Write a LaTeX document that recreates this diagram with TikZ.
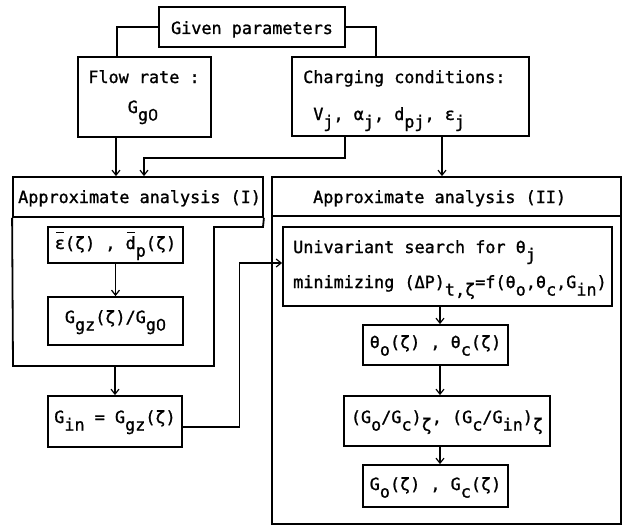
\documentclass[tikz,border=0pt]{standalone}
\usepackage{fontspec}
\setmonofont{DejaVu Sans Mono}[FakeBold=1.2]
\newfontfamily\zerofont{Liberation Sans}[FakeBold=1.2]
\usetikzlibrary{arrows.meta}
\newcommand\lowr[1]{\raisebox{-0.45em}{#1}}
\newcommand\zr{\makebox[0.602em]{\zerofont 0}}
\newcommand\ovr[1]{\rlap{\kern0.08em\raisebox{0.95em}{\rule{0.45em}{0.8pt}}}#1}
\begin{document}
\begin{tikzpicture}[x=1pt,y=-1pt,
  box/.style={draw, line width=1.8pt, inner sep=0pt},
  txt/.style={font=\fontsize{16.8}{20}\selectfont\ttfamily, inner sep=0pt},
  link/.style={line width=1.2pt},
  arr/.style={link, -{Straight Barb[length=5pt,width=8pt,line width=1.2pt]}}
]
\useasboundingbox (0,0) rectangle (623,527);

% boxes
\node[box, minimum width=186pt, minimum height=40pt] (gp) at (252,27) {};
\node[box, minimum width=133pt, minimum height=80pt] (flow) at (144.5,97) {};
\node[box, minimum width=237pt, minimum height=79pt] (charge) at (410.5,96.5) {};

\node[box, minimum width=250pt, minimum height=40pt] (ah1) at (138,197) {};
\draw[box] (ah1.south west) -- (13,366) -- (214,366) -- (214,227) -- (263,227) -- (ah1.south east);
\coordinate (ab1s) at (115,366);
\node[box, minimum width=135pt, minimum height=36pt] (eps) at (115.5,245) {};
\node[box, minimum width=135pt, minimum height=48pt] (ggz) at (115.5,321) {};
\node[box, minimum width=134pt, minimum height=51pt] (gin) at (115,421.5) {};

\node[box, minimum width=349pt, minimum height=308pt] (ab2) at (446.5,370) {};
\node[box, minimum width=349pt, minimum height=39pt] (ah2) at (446.5,196.5) {};
\node[box, minimum width=329pt, minimum height=79pt] (univ) at (447.5,266.5) {};
\node[box, minimum width=145pt, minimum height=40pt] (theta) at (435.5,345) {};
\node[box, minimum width=206pt, minimum height=50pt] (ratio) at (447,421) {};
\node[box, minimum width=145pt, minimum height=42pt] (go) at (435.5,486) {};

% texts
\node[txt, anchor=base] (t-gp) at (252,34) {Given parameters};
\node[txt, anchor=base] (t-fl1) at (144,83) {Flow rate :};
\node[txt, anchor=base] (t-fl2) at (143,113) {G\lowr{g\zr}};
\node[txt, anchor=base west] (t-ch1) at (303,83) {Charging conditions:};
\node[txt, anchor=base west] (t-ch2) at (303,120) {\phantom{V}V\lowr{j}, α\lowr{j}, d\lowr{pj}, ε\lowr{j}};
\node[txt, anchor=base west] (t-a1) at (18,203) {Approximate analysis (I)};
\node[txt, anchor=base] (t-eps) at (115.5,249) {\ovr{ε}(ζ) , \ovr{d}\lowr{p}(ζ)};
\node[txt, anchor=base] (t-ggz) at (115.5,323) {G\lowr{gz}(ζ)/G\lowr{g\zr}};
\node[txt, anchor=base] (t-gin) at (115,423) {G\lowr{in} = G\lowr{gz}(ζ)};
\node[txt, anchor=base west] (t-a2) at (313,203) {Approximate analysis (II)};
\node[txt, anchor=base west] (t-u1) at (293,253) {Univariant search for θ\lowr{j}};
\node[txt, anchor=base west] (t-u2) at (293,288) {minimizing (ΔP)\lowr{t,ζ}=f(θ\lowr{o},θ\lowr{c},G\lowr{in})};
\node[txt, anchor=base] (t-th) at (435.5,348) {θ\lowr{o}(ζ) , θ\lowr{c}(ζ)};
\node[txt, anchor=base] (t-ra) at (447,423) {(G\lowr{o}/G\lowr{c})\lowr{ζ}, (G\lowr{c}/G\lowr{in})\lowr{ζ}};
\node[txt, anchor=base] (t-go) at (435.5,490) {G\lowr{o}(ζ) , G\lowr{c}(ζ)};

% connectors
\draw[link] (gp.west) -| ([xshift=-27.5pt]flow.north);
\draw[link] (gp.east) -| ([xshift=-34.5pt]charge.north);
\draw[arr] ([xshift=-28.5pt]flow.south) -- ([xshift=-28.5pt]flow.south |- ah1.north);
\draw[arr] ([xshift=-65.5pt]charge.south) -- ++(0,21) -| ([xshift=6pt]ah1.north);
\draw[arr] ([xshift=31.5pt]charge.south) -- ([xshift=31.5pt]charge.south |- ah2.north);
\draw[arr] (eps) -- (ggz);
\draw[arr] (ab1s) -- (gin.north);
\draw[arr] ([yshift=-5.5pt]gin.east) -| ([xshift=-43pt,yshift=3.5pt]univ.west) -- ([yshift=3.5pt]univ.west);
\draw[arr] ([xshift=-7.5pt]univ.south) -- ([xshift=-7.5pt]univ.south |- theta.north);
\draw[arr] ([xshift=4.5pt]theta.south) -- ([xshift=4.5pt]theta.south |- ratio.north);
\draw[arr] ([xshift=-7pt]ratio.south) -- ([xshift=-7pt]ratio.south |- go.north);
\end{tikzpicture}
\end{document}
